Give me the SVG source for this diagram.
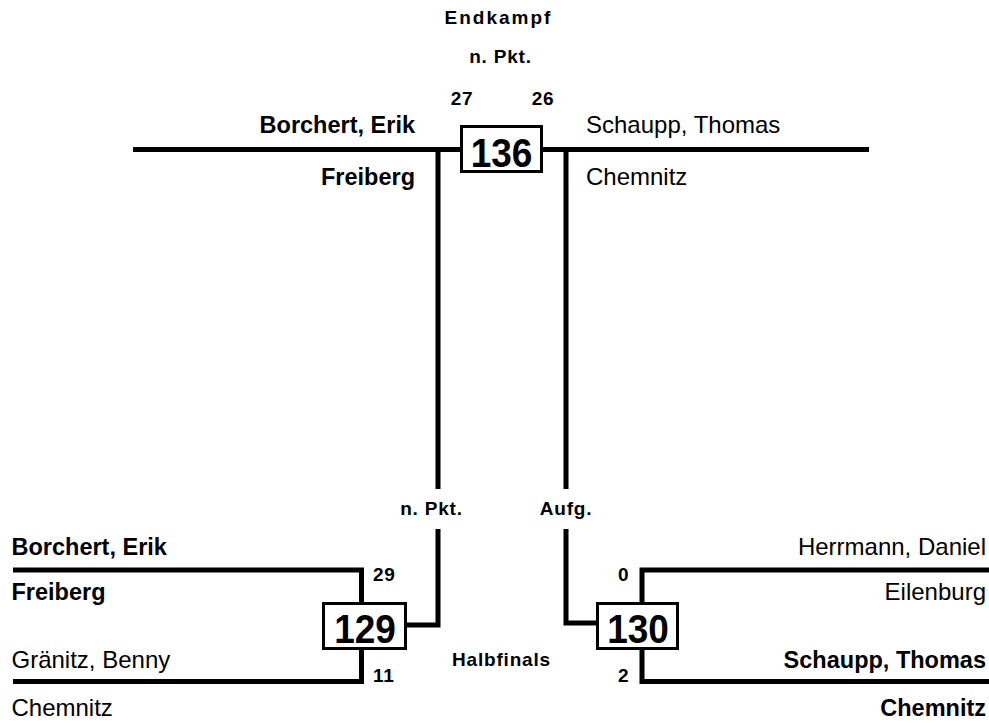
<svg xmlns="http://www.w3.org/2000/svg" width="989" height="723" viewBox="0 0 989 723">
<style>
text{font-family:"Liberation Sans",Arial,sans-serif;fill:#000}
.n{font-size:24px}
.b{font-size:23.5px;font-weight:bold}
.s{font-size:19px;font-weight:bold;letter-spacing:0.8px}
.big{font-size:37px;font-weight:bold}
.ln{fill:none;stroke:#000;stroke-width:5}
.box{fill:#fff;stroke:#000;stroke-width:3}
</style>
<rect width="989" height="723" fill="#fff"/>
<g id="connectors">
<line class="ln" x1="133" y1="149.5" x2="869" y2="149.5"/>
<line class="ln" x1="438" y1="149.5" x2="438" y2="489"/>
<line class="ln" x1="566" y1="149.5" x2="566" y2="489"/>
<polyline class="ln" points="13,570 361.5,570 361.5,603"/>
<polyline class="ln" points="361.5,649 361.5,681.5 13,681.5"/>
<polyline class="ln" points="406,625 438,625 438,529"/>
<polyline class="ln" points="989,570 642,570 642,603"/>
<polyline class="ln" points="642,649 642,681.5 989,681.5"/>
<polyline class="ln" points="566,529 566,623 597,623"/>
</g>
<g id="titles">
<text class="s" x="498.5" y="24" text-anchor="middle" style="letter-spacing:2px">Endkampf</text>
<text class="s" x="500.5" y="63" text-anchor="middle">n. Pkt.</text>
<text class="s" x="501.5" y="666" text-anchor="middle">Halbfinals</text>
</g>
<g id="m136">
<rect class="box" x="461.5" y="126.5" width="80" height="45"/>
<text class="big" transform="translate(501.5,166.5) scale(1,1.1)" text-anchor="middle">136</text>
<text class="s" x="462" y="105" text-anchor="middle">27</text>
<text class="s" x="543" y="105" text-anchor="middle">26</text>
<text class="b" x="415" y="133" text-anchor="end">Borchert, Erik</text>
<text class="b" x="415" y="185" text-anchor="end">Freiberg</text>
<text class="n" x="586" y="133">Schaupp, Thomas</text>
<text class="n" x="586" y="185">Chemnitz</text>
<text class="s" x="431.5" y="515" text-anchor="middle">n. Pkt.</text>
<text class="s" x="566" y="515" text-anchor="middle">Aufg.</text>
</g>
<g id="m129">
<rect class="box" x="323.5" y="603.5" width="82" height="45"/>
<text class="big" transform="translate(365,642.5) scale(1,1.1)" text-anchor="middle">129</text>
<text class="s" x="373" y="581">29</text>
<text class="s" x="373" y="682">11</text>
<text class="b" x="11.5" y="555">Borchert, Erik</text>
<text class="b" x="11.5" y="600">Freiberg</text>
<text class="n" x="11.5" y="668">Gränitz, Benny</text>
<text class="n" x="11.5" y="716">Chemnitz</text>
</g>
<g id="m130">
<rect class="box" x="597.5" y="603.5" width="80" height="45"/>
<text class="big" transform="translate(638,642.5) scale(1,1.1)" text-anchor="middle">130</text>
<text class="s" x="618" y="581">0</text>
<text class="s" x="618" y="682">2</text>
<text class="n" x="986" y="555" text-anchor="end">Herrmann, Daniel</text>
<text class="n" x="986" y="600" text-anchor="end">Eilenburg</text>
<text class="b" x="986" y="668" text-anchor="end">Schaupp, Thomas</text>
<text class="b" x="986" y="716" text-anchor="end">Chemnitz</text>
</g>
</svg>
